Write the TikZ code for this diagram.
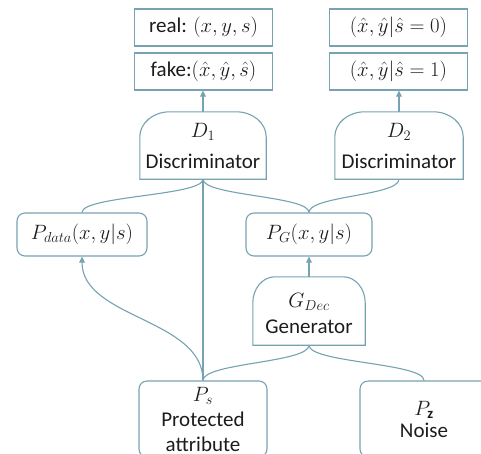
\documentclass[tikz,border=0pt]{standalone}
\usepackage{fontspec}
\setmainfont{Carlito}
\usetikzlibrary{arrows.meta,calc}
\definecolor{edge}{RGB}{118,162,177}
\definecolor{ink}{RGB}{28,28,28}
\begin{document}
\begin{tikzpicture}[x=1pt,y=-1pt,
  txt/.style={font=\fontsize{21}{26}\selectfont, text=ink},
  plainbox/.style={txt, draw=edge, line width=1.1pt, inner sep=0pt,
    minimum width=138pt, minimum height=37pt},
  roundbox/.style={plainbox, rounded corners=8pt},
  gatebox/.style={inner sep=0pt},
  gatetext/.style={txt, anchor=base, inner sep=0pt},
  link/.style={draw=edge, line width=1.1pt},
  arrow/.style={link, -{Triangle[length=6pt,width=5.5pt]}},
  swing/.style={link, to path={let \p1=(\tikztostart), \p2=(\tikztotarget) in
    .. controls (\x1,{(\y1+\y2)/2}) and (\x2,{(\y1+\y2)/2}) .. (\tikztotarget) \tikztonodes}}
]
\useasboundingbox (0,0) rectangle (481,453);
\clip (0,0) rectangle (481,453);

% outputs of the two discriminators
\node[plainbox] (real) at (203.5,27.5) {real: $(x,y,s)$};
\node[plainbox] (fake) at (203.5,71.5) {fake:$(\hat{x},\hat{y},\hat{s})$};
\node[plainbox] (s0) at (398.5,27.5) {$(\hat{x},\hat{y}|\hat{s}=0)$};
\node[plainbox] (s1) at (398.5,71.5) {$(\hat{x},\hat{y}|\hat{s}=1)$};

% discriminators and generator: dome-topped blocks
\node[gatebox, minimum width=126pt, minimum height=67pt] (d1) at (203,145.5) {};
\node[gatebox, minimum width=128pt, minimum height=67pt] (d2) at (399,145.5) {};
\node[gatebox, minimum width=112pt, minimum height=68pt] (gdec) at (309,311) {};

\foreach \n/\rx/\ry in {d1/30/25, d2/30/25, gdec/22/26}
  \draw[link] (\n.south west) -- ($(\n.north west)+(0,\ry)$)
    .. controls ($(\n.north west)+(0,{0.448*\ry})$) and ($(\n.north west)+({0.448*\rx},0)$)
    .. ($(\n.north west)+(\rx,0)$) -- ($(\n.north east)+(-\rx,0)$)
    .. controls ($(\n.north east)+({-0.448*\rx},0)$) and ($(\n.north east)+(0,{0.448*\ry})$)
    .. ($(\n.north east)+(0,\ry)$) -- (\n.south east) -- cycle;

\node[gatetext] (d1sym) at (203,137) {$D_1$};
\node[gatetext] (d1name) at (203,168) {Discriminator};
\node[gatetext] (d2sym) at (399,137) {$D_2$};
\node[gatetext] (d2name) at (399,168) {Discriminator};
\node[gatetext] (gsym) at (309,307) {$G_{Dec}$};
\node[gatetext] (gname) at (309,333) {Generator};

% distributions
\node[roundbox, minimum width=130pt, minimum height=43pt] (pdata) at (82,234.5) {$P_{data}(x,y|s)$};
\node[roundbox, minimum width=126pt, minimum height=43pt] (pg) at (309,234.5) {$P_G(x,y|s)$};

% inputs
\node[roundbox, align=center, minimum width=128pt, minimum height=76pt,
  font=\fontsize{21}{25}\selectfont] (ps) at (203,419) {$P_s$\\Protected\\attribute};
\node[roundbox, align=center, minimum width=128pt, minimum height=76pt,
  font=\fontsize{21}{22}\selectfont] (pz) at (424,419) {$P_{\mathbf{z}}$\\Noise};

% connectors
\draw[arrow] (d1.north) -- (fake.south -| d1.north);
\draw[arrow] (d2.north) -- (s1.south -| d2.north);
\draw[arrow] (gdec.north) -- (pg.south);
\draw[swing] (d1.south) to (pdata.north);
\draw[swing] (d1.south) to (pg.north);
\draw[swing] (d2.south) to (pg.north);
\draw[link] (d1.south) -- (ps.north);
\draw[swing, arrow] (ps.north) to (pdata.south);
\draw[swing] (gdec.south) to (ps.north);
\draw[swing] (gdec.south) to (pz.north);
\end{tikzpicture}
\end{document}
